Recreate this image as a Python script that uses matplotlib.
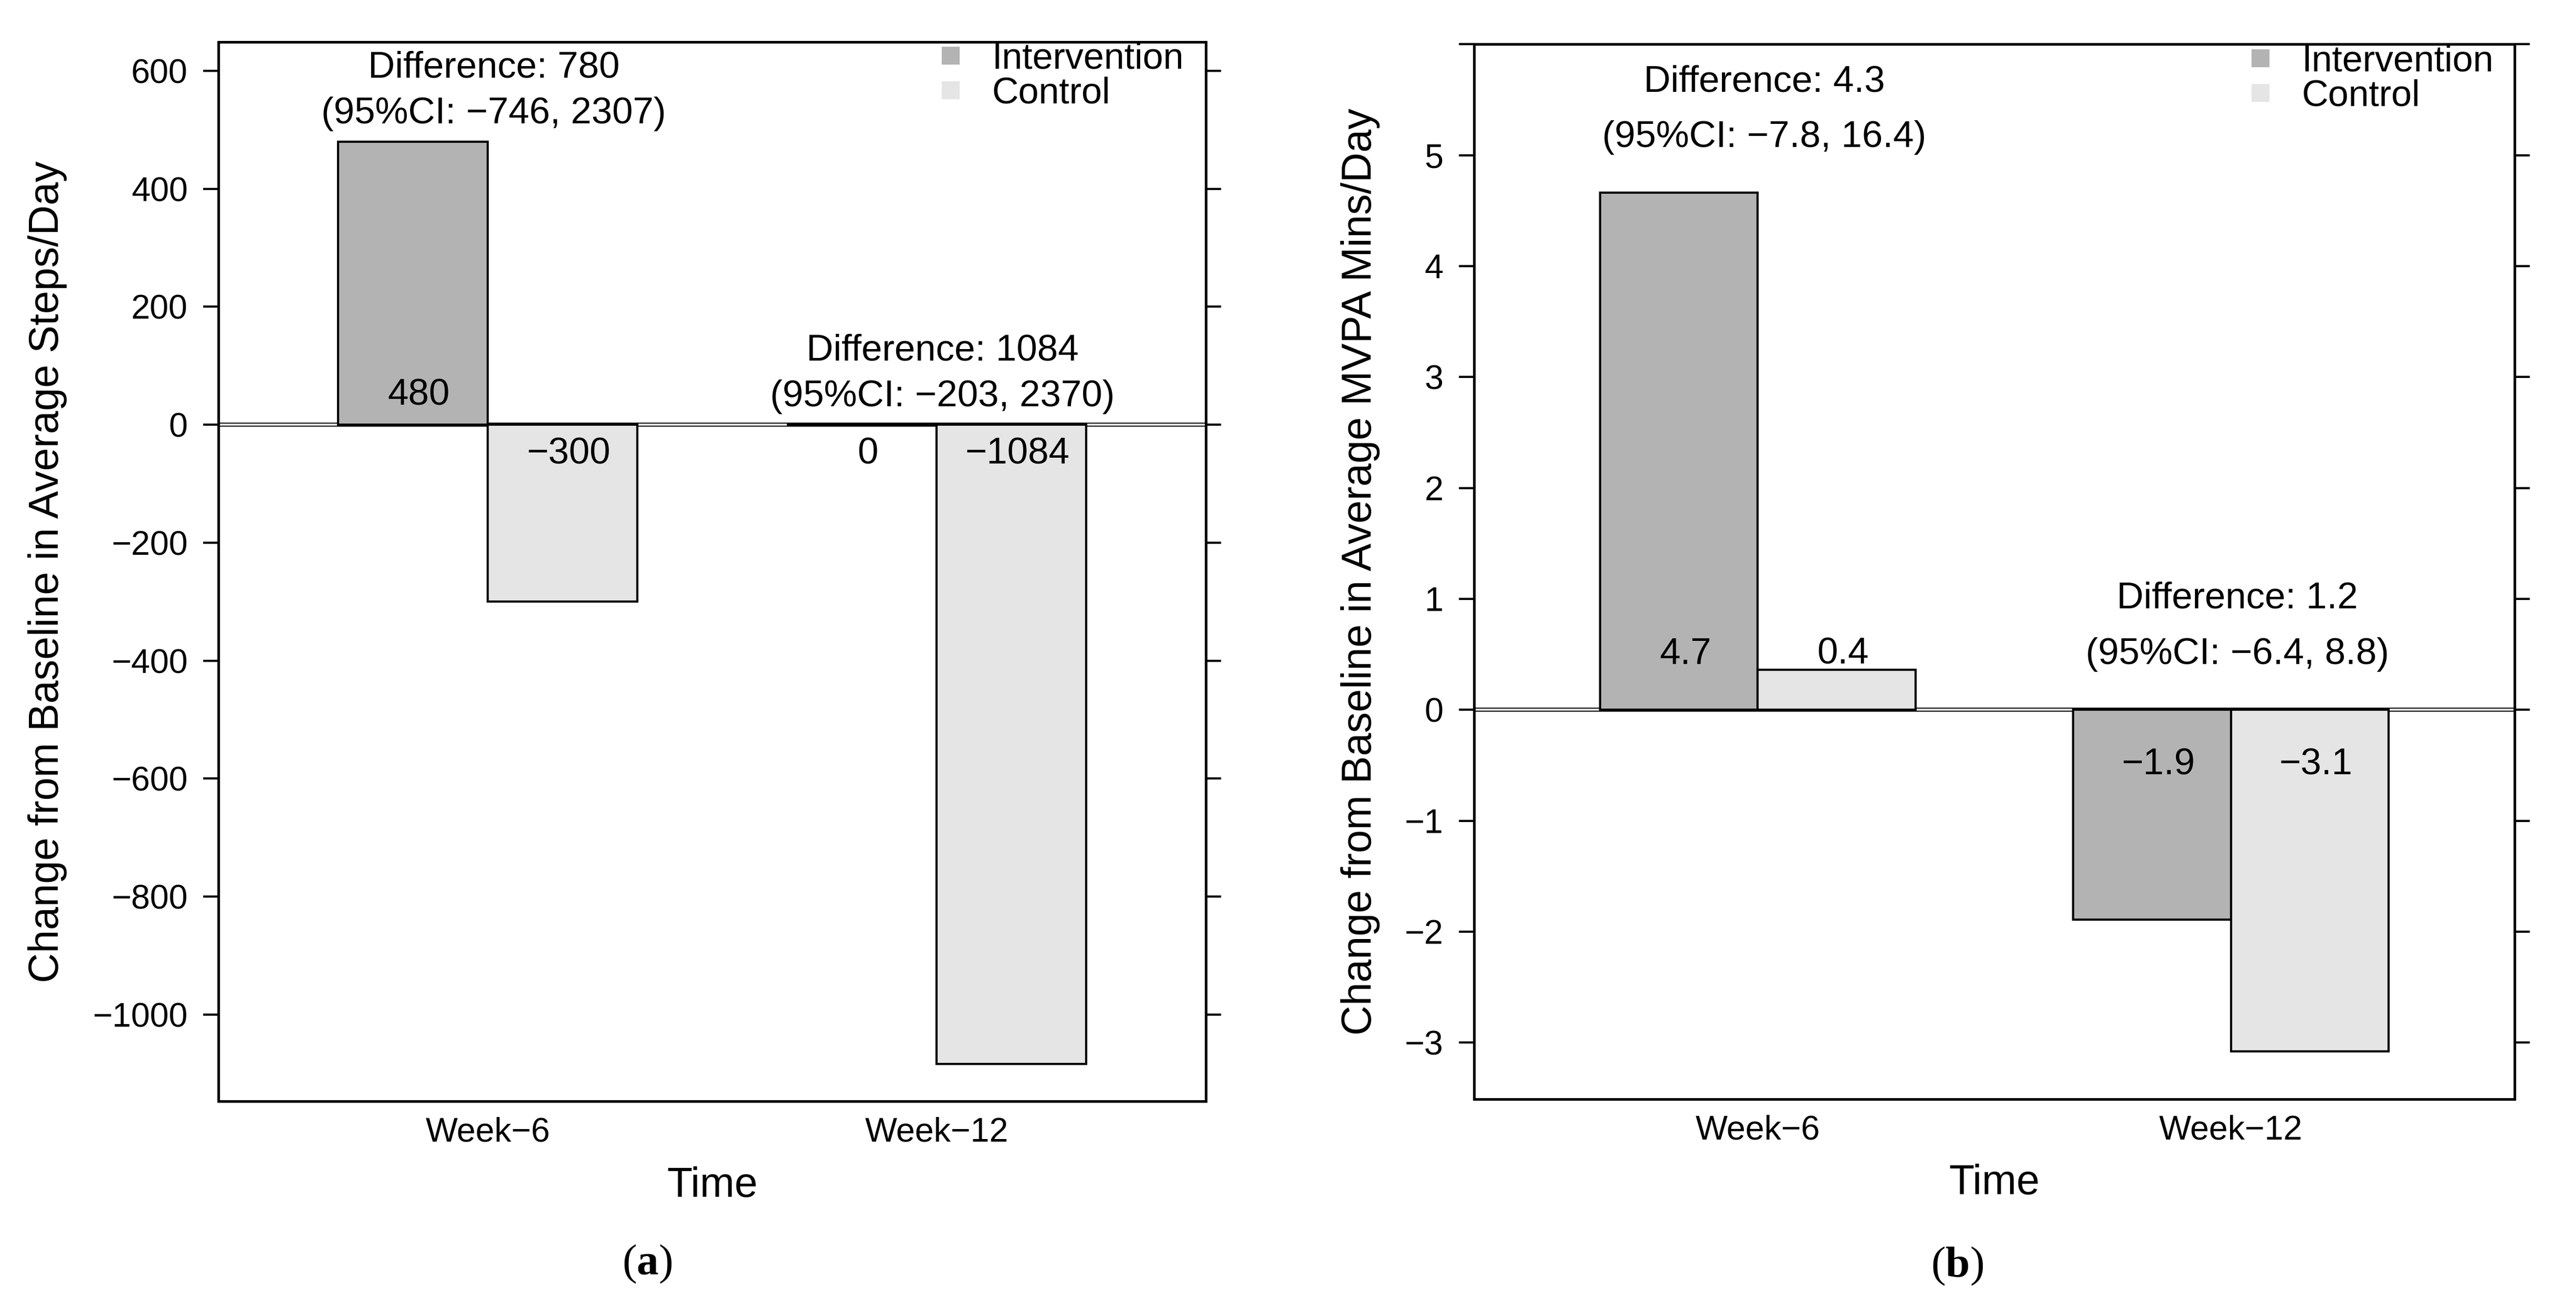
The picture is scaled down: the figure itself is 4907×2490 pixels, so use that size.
import matplotlib
matplotlib.use("Agg")
import matplotlib.pyplot as plt
from matplotlib.lines import Line2D

plt.rcParams['font.family'] = ['Liberation Sans', 'DejaVu Sans']
plt.rcParams['mathtext.fontset'] = 'custom'
plt.rcParams['mathtext.rm'] = 'Liberation Serif'
plt.rcParams['mathtext.bf'] = 'Liberation Serif:bold'

# data
groups = ['Week\u22126', 'Week\u221212']
series = ['Intervention', 'Control']
colors = ['#b3b3b3', '#e5e5e5']

steps_intervention = [480, 0]
steps_control = [-300, -1084]
steps_diff = ['780', '1084']
steps_ci = [('\u2212746', '2307'), ('\u2212203', '2370')]

mvpa_intervention = [4.66, -1.89]
mvpa_control = [0.36, -3.08]
mvpa_diff = ['4.3', '1.2']
mvpa_ci = [('\u22127.8', '16.4'), ('\u22126.4', '8.8')]


def fmt_val(v, nd):
    return f'{v:.{nd}f}'.replace('-', '\u2212')


def draw_panel(ax, interv, ctrl, nd, diffs, cis, ylim, yticks, ytick_labels,
               ylabel, ylabel_x, lab_off, diff_off, ci_off, legend_x):
    n = len(groups)
    xi = [1.5 + 3 * i for i in range(n)]
    xc = [2.5 + 3 * i for i in range(n)]
    centers = [2 + 3 * i for i in range(n)]

    # zero reference line: light band with black edges
    ax.axhline(0, color='black', lw=1.85, zorder=1)
    ax.axhline(0, color='#e0e0e0', lw=0.95, zorder=1.1)
    ax.bar(xi, interv, width=1.0, color=colors[0], edgecolor='black', lw=1.0, zorder=2)
    ax.bar(xc, ctrl, width=1.0, color=colors[1], edgecolor='black', lw=1.0, zorder=2)

    dx = 0.04
    for x, v in list(zip(xi, interv)) + list(zip(xc, ctrl)):
        off = lab_off if v > 0 else -lab_off
        ax.text(x + dx, off, fmt_val(v, nd), ha='center', va='center',
                fontsize=17, zorder=3)

    for i, c in enumerate(centers):
        top = max(0, interv[i], ctrl[i])
        ax.text(c + dx, top + diff_off, f'Difference: {diffs[i]}', ha='center',
                va='center', fontsize=17, zorder=3)
        ax.text(c + dx, top + ci_off, f'(95%CI: {cis[i][0]}, {cis[i][1]})',
                ha='center', va='center', fontsize=17, zorder=3)

    ax.set_xlim(0.2, 6.8)
    ax.set_ylim(*ylim)
    ax.set_xticks(centers)
    ax.set_xticklabels(groups)
    ax.set_yticks(yticks)
    ax.set_yticklabels(ytick_labels)
    ax.tick_params(axis='x', length=0, pad=7, labelsize=15.5)
    ax.tick_params(axis='y', left=True, right=True, direction='out', length=7,
                   width=1.0, pad=7, labelsize=15.5)
    for s in ax.spines.values():
        s.set_linewidth(1.2)

    ax.set_ylabel(ylabel, fontsize=19, va='center')
    ax.yaxis.set_label_coords(ylabel_x, 0.5)
    ax.set_xlabel('Time', fontsize=19, va='center')
    ax.xaxis.set_label_coords(0.5, -0.08)

    handles = [Line2D([], [], ls='none', marker='s', markersize=7,
                      markerfacecolor=col, markeredgecolor=col) for col in colors]
    ax.legend(handles, series, loc='upper left', bbox_to_anchor=(legend_x, 1.0),
              frameon=False, fontsize=16.8, handlelength=0.8, handletextpad=0.72,
              labelspacing=0.0, borderpad=0, borderaxespad=0)


fig = plt.figure(figsize=(4907 / 300, 2490 / 300), dpi=300)
ax_a = fig.add_axes([0.0848, 0.1574, 0.3833, 0.8105])
ax_b = fig.add_axes([0.5722, 0.1590, 0.4040, 0.8072])

a_ticks = list(range(-1000, 601, 200))
draw_panel(ax_a, steps_intervention, steps_control, 0, steps_diff, steps_ci,
           (-1147, 649), a_ticks, [fmt_val(t, 0) for t in a_ticks],
           'Change from Baseline in Average Steps/Day', -0.173,
           50, 125, 47, 0.7267)

b_ticks = list(range(-3, 7))
draw_panel(ax_b, mvpa_intervention, mvpa_control, 1, mvpa_diff, mvpa_ci,
           (-3.51, 6.0), b_ticks, [fmt_val(t, 0) if t < 6 else '' for t in b_ticks],
           'Change from Baseline in Average MVPA Mins/Day', -0.109,
           0.5, 1.0, 0.5, 0.7417)

fig.text(0.2513, 0.0329, r'($\mathbf{a}$)', ha='center', va='center',
         fontsize=20, family='Liberation Serif')
fig.text(0.7597, 0.0313, r'($\mathbf{b}$)', ha='center', va='center',
         fontsize=20, family='Liberation Serif')

fig.savefig('out.png', dpi=300)
